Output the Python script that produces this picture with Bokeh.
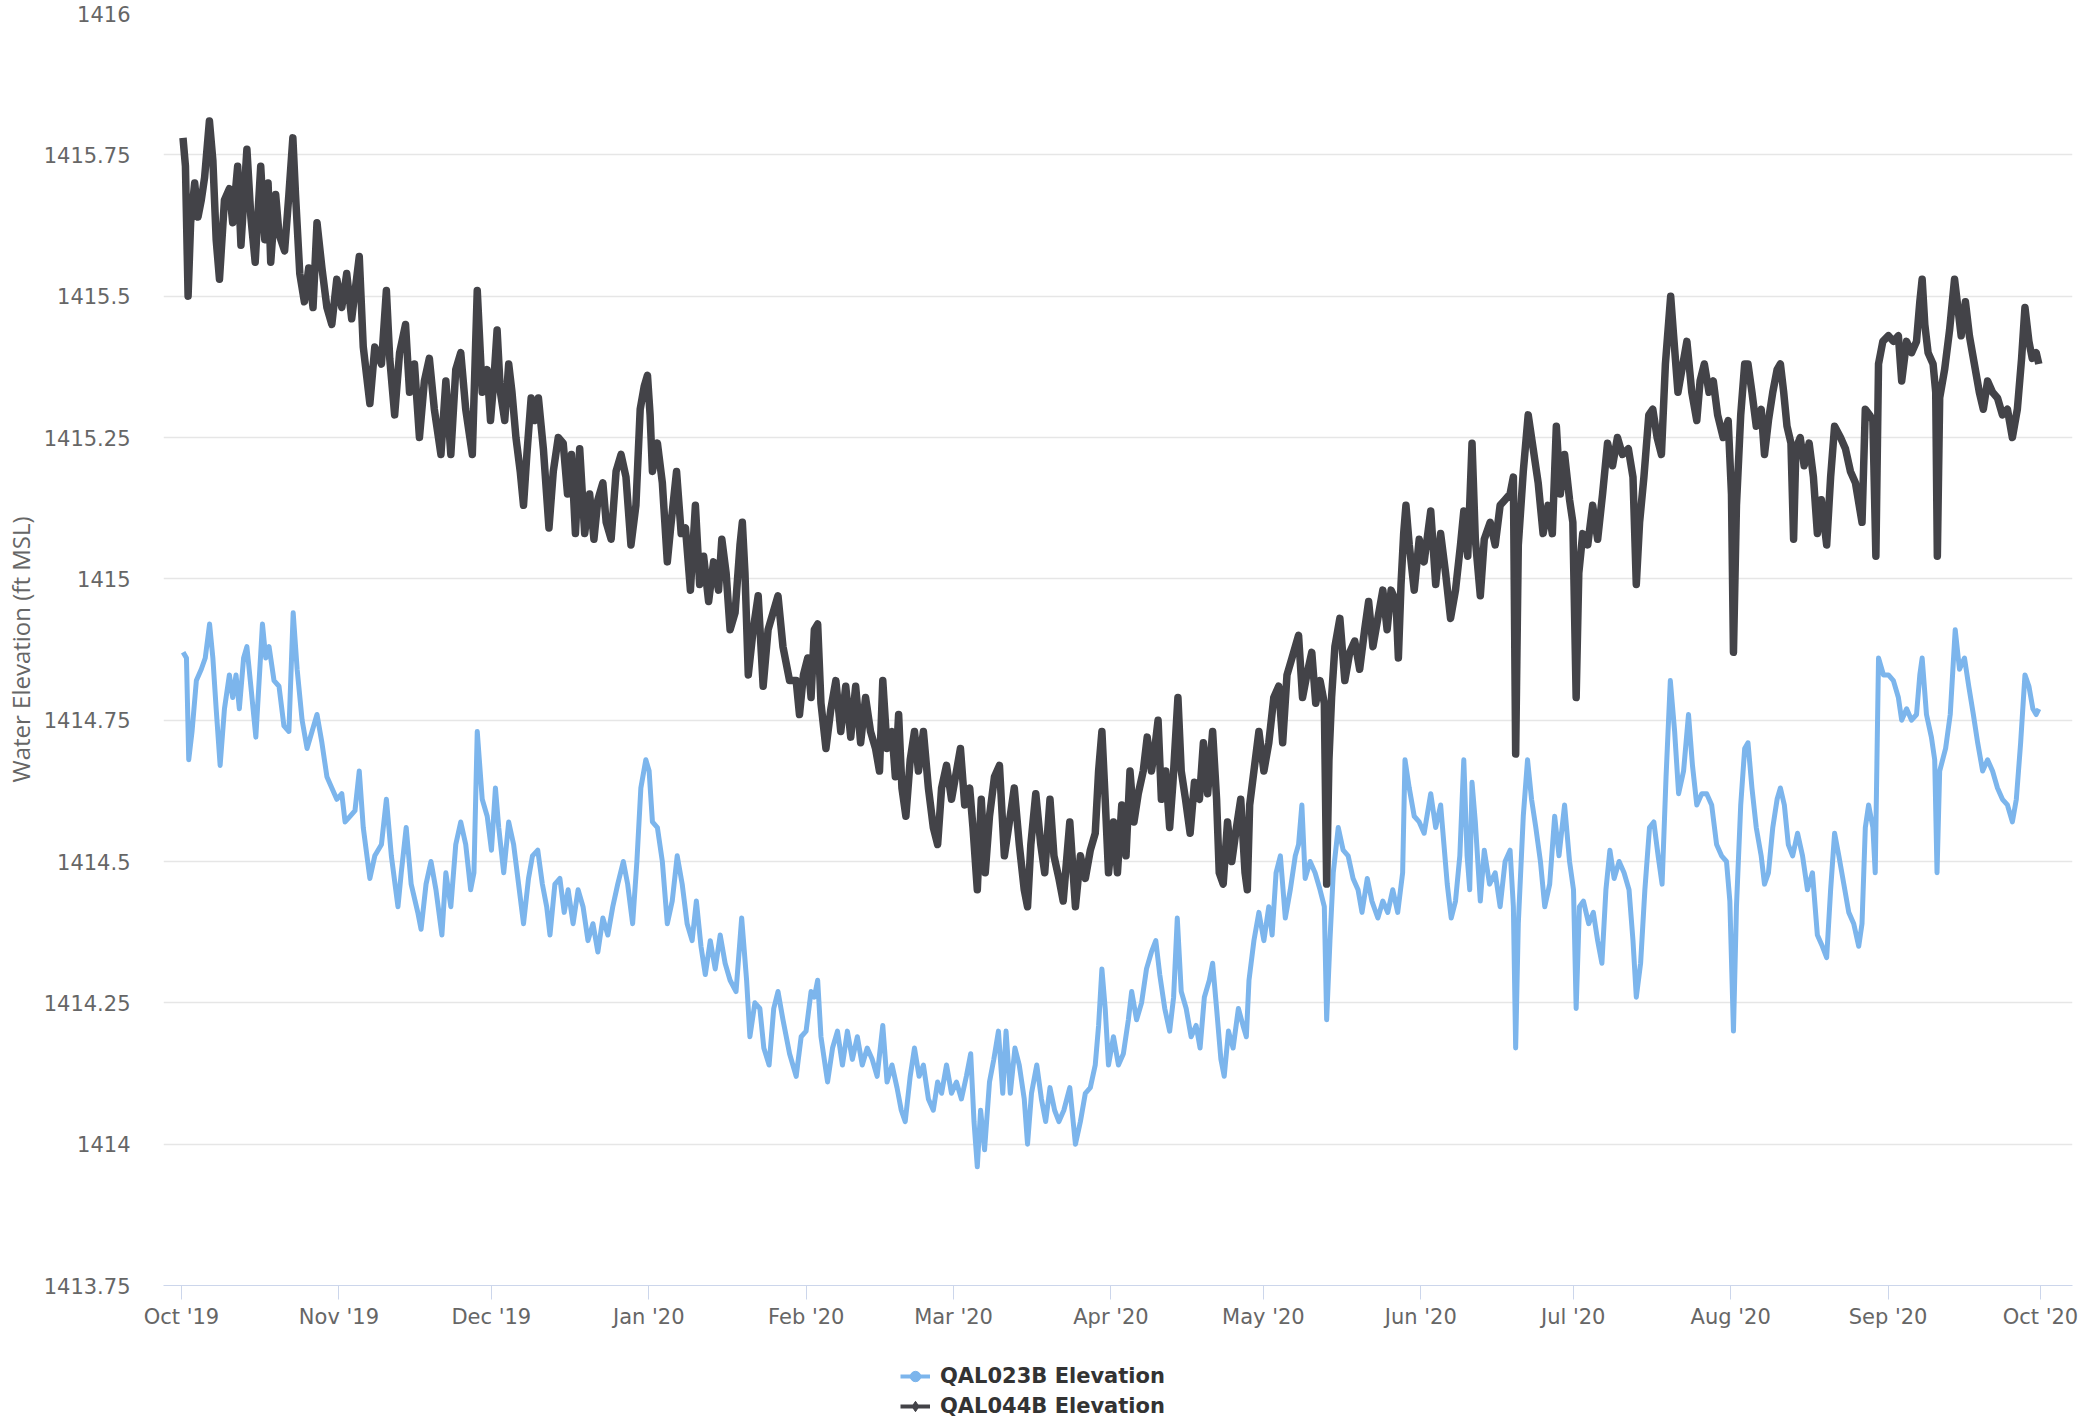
from datetime import datetime, timedelta
from bokeh.plotting import figure
from bokeh.layouts import column
from bokeh.models import (Range1d, FixedTicker, DatetimeTickFormatter, NumeralTickFormatter,
                          Legend, LegendItem, ColumnDataSource)
from bokeh.embed import file_html
from bokeh.resources import INLINE

# ---------------- data (days since 2019-10-01, elevation ft MSL) ----------------
start_date = datetime(2019, 10, 1)

qal044b_days = [
    0.3, 0.78, 1.3, 1.8, 2.6, 3.25, 3.9, 4.55, 5.5, 6.18, 6.83, 7.48, 8.46, 9.43, 10.08, 11.06, 11.71, 12.88,
    13.66, 14.51, 15.6, 16.4, 17.05, 17.57, 18.54, 19.2, 20.3, 21.15, 21.93, 22.45, 23.29, 24.2, 25.05, 25.9,
    26.68, 27.65, 28.63, 29.6, 30.58, 31.56, 32.53, 33.51, 35.0, 35.79, 37.09, 38.06, 39.37, 40.34, 41.0,
    41.97, 42.94, 44.11, 44.9, 45.87, 46.85, 47.82, 48.8, 49.78, 51.08, 52.05, 53.03, 54.0, 54.98, 55.96,
    57.26, 58.23,
    59.21, 60.19, 60.84, 61.49, 62.14, 62.79, 63.64, 64.42, 65.07, 65.85, 66.69, 67.34, 68.0, 68.84, 69.62,
    70.27, 71.25, 72.35, 73.2, 74.18, 75.15, 76.0, 76.78, 77.56, 78.4, 79.38, 80.36, 81.2, 81.98, 82.96,
    83.61, 84.59, 85.56, 86.54, 87.51, 88.49, 89.47, 90.31, 91.09, 91.74, 92.26, 92.72, 93.7, 94.67, 95.65,
    96.3, 97.47, 98.38, 99.23, 100.2, 101.18, 102.02, 102.8, 103.78, 104.76, 105.73, 106.38, 107.23, 108.01,
    108.99, 109.96, 110.42, 110.94, 111.59, 112.56, 113.54, 114.52, 115.49, 117.44, 118.42, 119.72,
    121.02, 121.67, 122.45, 123.3, 123.95, 124.6, 125.25, 125.9, 126.88, 127.85, 128.83, 129.8, 130.78,
    131.76, 132.73, 133.71, 134.68, 135.66, 136.64, 137.42, 138.07, 138.91, 139.89, 140.54, 141.19, 141.84,
    142.62, 143.47, 144.31, 145.09, 146.07, 147.05, 148.02, 148.87, 149.65, 150.62, 151.6, 152.58, 153.36,
    154.2, 155.18, 155.83, 156.68, 157.46, 158.24, 159.08, 160.06, 161.04, 162.01, 162.99, 163.96, 164.94,
    165.92, 166.57, 167.22, 168.19, 169.17, 169.95, 170.99, 171.77, 172.75, 173.59, 174.89, 176.0, 176.98,
    177.95, 178.93, 179.9, 180.56, 181.21, 181.86, 182.51,
    183.49, 184.27, 185.12, 185.96, 186.74, 187.52, 188.37, 189.35, 190.13, 190.97, 191.62, 192.27, 192.92,
    193.77, 194.55, 195.2, 196.18, 196.83, 197.67, 198.58, 199.43, 200.41, 201.19, 202.03, 203.01, 203.79,
    204.31, 205.09, 205.94, 206.78, 207.7, 208.54, 209.39, 209.84, 210.3, 211.14, 212.12, 213.1, 214.07,
    215.05, 216.02, 216.8, 217.65, 218.63, 219.93, 220.71, 221.55, 222.53, 223.31, 224.16, 225.0, 225.46,
    225.91, 226.43, 227.08, 228.06, 229.04, 230.01, 230.99, 231.96, 232.94, 233.72, 234.57, 235.54, 236.52,
    237.36, 238.15, 239.12, 239.58, 240.1, 240.62, 241.07, 241.72, 242.7, 243.68, 244.65,
    245.95, 246.93, 247.9, 248.88, 249.85, 250.83, 251.81, 252.46, 253.24, 254.08, 254.73, 255.71, 256.49,
    257.66, 258.64, 259.61, 260.59, 261.57, 262.22, 262.67, 263.19, 264.17, 265.14, 266.12, 267.1, 268.07,
    269.05, 269.89, 270.68, 271.46, 272.3, 273.28, 273.93, 274.58, 275.1, 275.88, 276.86, 277.83, 278.81,
    279.78, 280.76, 281.74, 282.71, 283.69, 284.86, 285.77, 286.42, 287.07, 287.92, 288.89, 289.67, 290.52,
    291.37, 292.15, 292.67, 293.19, 293.77, 294.62, 295.4, 296.38, 297.35, 298.33, 298.98, 299.82, 300.74,
    301.58, 302.43, 303.53, 304.51, 305.16, 305.55, 306.14, 306.98, 307.76,
    308.41, 309.19, 310.04, 311.01, 311.66, 312.44, 313.29, 314.14, 314.79, 315.44, 316.09, 316.87, 317.39,
    317.84, 318.69, 319.47, 320.45, 321.29, 322.07, 322.85, 323.9, 324.68, 325.46, 326.63, 327.6, 328.58,
    329.56, 330.86, 331.51, 332.35, 333.0, 333.59, 334.11, 334.96, 336.06, 337.04, 338.02, 338.67, 339.64,
    340.62, 341.59, 342.24, 342.7, 343.22, 343.87, 344.85, 345.37, 345.69, 346.15, 347.12, 348.1, 349.08,
    349.73, 350.38, 351.22, 352.0, 352.98, 353.96, 354.74, 355.58, 356.56, 357.53, 358.51, 359.49, 360.46,
    361.44, 362.28, 362.94, 363.72, 364.37, 365.15, 365.67,
]
qal044b_elev = [
    1415.78, 1415.73, 1415.50, 1415.63, 1415.70, 1415.64, 1415.67, 1415.71, 1415.81, 1415.74, 1415.60, 1415.53,
    1415.67, 1415.69, 1415.63, 1415.73, 1415.59, 1415.76, 1415.64, 1415.56, 1415.73, 1415.60, 1415.70, 1415.56,
    1415.68, 1415.61, 1415.58, 1415.68, 1415.78, 1415.68, 1415.54, 1415.49, 1415.55, 1415.48, 1415.63, 1415.55,
    1415.48, 1415.45, 1415.53, 1415.48, 1415.54, 1415.46, 1415.57, 1415.41, 1415.31, 1415.41, 1415.38, 1415.51,
    1415.39, 1415.29, 1415.40, 1415.45, 1415.33, 1415.38, 1415.25, 1415.35, 1415.39, 1415.30, 1415.22, 1415.35,
    1415.22, 1415.37, 1415.40, 1415.30, 1415.22, 1415.51,
    1415.33, 1415.37, 1415.28, 1415.35, 1415.44, 1415.33, 1415.28, 1415.38, 1415.33, 1415.25, 1415.19, 1415.13,
    1415.22, 1415.32, 1415.28, 1415.32, 1415.23, 1415.09, 1415.19, 1415.25, 1415.24, 1415.15, 1415.22, 1415.08,
    1415.23, 1415.08, 1415.15, 1415.07, 1415.14, 1415.17, 1415.10, 1415.07, 1415.19, 1415.22, 1415.18, 1415.06,
    1415.13, 1415.30, 1415.34, 1415.36, 1415.29, 1415.19, 1415.24, 1415.17, 1415.03, 1415.09, 1415.19, 1415.08,
    1415.09, 1414.98, 1415.13, 1414.99, 1415.04, 1414.96, 1415.03, 1414.98, 1415.07, 1415.01, 1414.91, 1414.94,
    1415.06, 1415.10, 1415.01, 1414.83, 1414.91, 1414.97, 1414.81, 1414.91, 1414.97, 1414.88, 1414.82,
    1414.82, 1414.76, 1414.83, 1414.86, 1414.79, 1414.91, 1414.92, 1414.78, 1414.70, 1414.77, 1414.82, 1414.73,
    1414.81, 1414.72, 1414.81, 1414.71, 1414.79, 1414.73, 1414.70, 1414.66, 1414.82, 1414.70, 1414.73, 1414.65,
    1414.76, 1414.63, 1414.58, 1414.68, 1414.73, 1414.66, 1414.73, 1414.63, 1414.56, 1414.53, 1414.63, 1414.67,
    1414.61, 1414.66, 1414.70, 1414.60, 1414.63, 1414.56, 1414.45, 1414.61, 1414.48, 1414.58, 1414.65, 1414.67,
    1414.51, 1414.57, 1414.63, 1414.53, 1414.45, 1414.42, 1414.53, 1414.62, 1414.53, 1414.48, 1414.61, 1414.51,
    1414.47, 1414.43, 1414.57, 1414.42, 1414.51, 1414.47, 1414.52, 1414.55, 1414.66, 1414.73, 1414.61, 1414.48,
    1414.57, 1414.48, 1414.60, 1414.51, 1414.66, 1414.57, 1414.62, 1414.66, 1414.72, 1414.66, 1414.70, 1414.75,
    1414.61, 1414.66, 1414.56, 1414.64, 1414.79, 1414.66, 1414.61, 1414.55, 1414.64, 1414.61, 1414.71, 1414.62,
    1414.73, 1414.61, 1414.48, 1414.46, 1414.57, 1414.50, 1414.56, 1414.61, 1414.48, 1414.45, 1414.60, 1414.66,
    1414.73, 1414.66, 1414.71, 1414.79, 1414.81, 1414.71, 1414.83, 1414.86, 1414.90, 1414.79, 1414.83, 1414.87,
    1414.78, 1414.82, 1414.78, 1414.46, 1414.68, 1414.79, 1414.88, 1414.93, 1414.82, 1414.87, 1414.89, 1414.84,
    1414.91, 1414.96, 1414.88, 1414.93, 1414.98, 1414.91, 1414.98, 1414.96, 1414.86, 1414.99, 1415.08, 1415.13,
    1415.06, 1414.98, 1415.07, 1415.03,
    1415.12, 1414.99, 1415.08, 1415.01, 1414.93, 1414.98, 1415.06, 1415.12, 1415.04, 1415.24, 1415.07, 1414.97,
    1415.07, 1415.10, 1415.06, 1415.13, 1415.14, 1415.15, 1415.18, 1414.69, 1415.06, 1415.19, 1415.29, 1415.23,
    1415.17, 1415.08, 1415.13, 1415.08, 1415.27, 1415.15, 1415.22, 1415.14, 1415.10, 1414.79, 1415.01, 1415.08,
    1415.06, 1415.13, 1415.07, 1415.15, 1415.24, 1415.20, 1415.25, 1415.22, 1415.23, 1415.18, 1414.99, 1415.10,
    1415.18, 1415.29, 1415.30, 1415.25, 1415.22, 1415.38, 1415.44, 1415.50, 1415.43, 1415.33, 1415.37, 1415.42,
    1415.33, 1415.28, 1415.35, 1415.38, 1415.33, 1415.35, 1415.29, 1415.25, 1415.28, 1415.15, 1414.87, 1415.13,
    1415.29, 1415.38,
    1415.38, 1415.33, 1415.27, 1415.30, 1415.22, 1415.28, 1415.33, 1415.37, 1415.38, 1415.33, 1415.27, 1415.24,
    1415.07, 1415.23, 1415.25, 1415.20, 1415.24, 1415.18, 1415.08, 1415.14, 1415.06, 1415.18, 1415.27, 1415.25,
    1415.23, 1415.19, 1415.17, 1415.10, 1415.30, 1415.29, 1415.28, 1415.04, 1415.38, 1415.42, 1415.43, 1415.42,
    1415.43, 1415.35, 1415.42, 1415.40, 1415.42, 1415.49, 1415.53, 1415.45, 1415.40, 1415.38, 1415.33, 1415.04,
    1415.32, 1415.37, 1415.44, 1415.53, 1415.48, 1415.43, 1415.49, 1415.43, 1415.38, 1415.33, 1415.30, 1415.35,
    1415.33, 1415.32, 1415.29, 1415.30, 1415.25, 1415.30, 1415.39, 1415.48, 1415.42, 1415.39, 1415.40, 1415.38,
]

qal023b_days = [
    0.33, 0.98, 1.43, 2.08, 2.93, 3.9, 4.68, 5.53, 6.18, 6.83, 7.61, 8.46, 9.43, 10.08, 10.74, 11.39, 12.23,
    12.88, 13.66, 14.64, 15.94, 16.59, 17.24, 18.22, 19.2, 20.17, 21.15, 21.99, 22.77, 23.75, 24.72, 25.7,
    26.68, 27.65, 28.63, 29.6, 30.58, 31.56, 32.21, 33.18, 34.16, 35.0, 35.79, 37.09, 38.06, 39.37, 40.34,
    41.32, 42.62, 43.27, 44.24, 45.22, 46.52, 47.17, 48.15, 49.12, 50.1, 51.27, 52.05, 53.03, 54.0, 54.98,
    55.96, 56.93, 57.58, 58.23,
    59.21, 60.19, 61.03, 61.81, 62.46, 63.44, 64.42, 65.39, 66.37, 67.34, 68.32, 69.1, 70.14, 71.05, 71.9,
    72.55, 73.52, 74.5, 75.35, 76.13, 77.1, 78.08, 79.06, 80.03, 81.01, 81.98, 82.96, 83.94, 84.91, 85.89,
    86.99, 87.84, 88.82, 89.66, 90.44, 91.42, 92.07, 92.72, 93.7, 94.67, 95.65, 96.62, 97.6, 98.58, 99.55,
    100.53, 101.37, 102.28, 103.13, 104.11, 105.08, 106.06, 107.03, 108.01, 109.18, 110.29, 111.26, 111.91,
    112.89, 113.87, 114.65, 115.69, 116.6, 117.44, 118.42, 119.72,
    121.02, 122.0, 122.97, 123.95, 124.6, 125.25, 125.9, 127.2, 128.18, 129.15, 130.13, 131.1, 132.08,
    133.06, 134.03, 135.01, 135.99, 136.96, 138.07, 138.91, 139.89, 140.87, 141.71, 142.49, 143.47, 144.31,
    145.22, 146.07, 147.05, 148.02, 148.87, 149.65, 150.62, 151.6, 152.58, 153.55, 154.53, 155.38, 156.03,
    156.68, 157.33, 158.11, 159.08, 159.93, 160.84, 161.69, 162.34, 163.18, 164.09, 164.94, 165.92, 166.57,
    167.35, 168.39, 169.3, 170.14, 170.99, 171.9, 172.75, 173.72, 174.89, 176.0, 176.98, 177.95, 178.93,
    179.9, 180.56, 181.21, 181.86, 182.51,
    183.49, 184.47, 185.44, 186.42, 187.07, 188.04, 189.02, 189.99, 190.97, 191.82, 192.6, 193.58, 194.55,
    195.33, 196.05, 196.83, 197.8, 198.78, 199.76, 200.54, 201.38, 202.36, 203.01, 203.79, 204.64, 205.29,
    206.13, 207.04, 208.08, 208.99, 209.65, 210.17, 211.14, 212.12, 213.1, 214.07, 214.72, 215.5, 216.35,
    217.32, 218.3, 219.28, 219.93, 220.58, 221.23, 222.2, 223.18, 224.16, 225.0, 225.46, 226.11, 226.76,
    227.74, 228.71, 229.69, 230.66, 231.64, 232.42, 233.46, 234.37, 235.54, 236.52, 237.49, 238.47, 239.45,
    240.42, 240.88, 241.72, 242.7, 243.68, 244.65,
    245.95, 246.93, 247.9, 248.55, 249.2, 249.98, 250.83, 251.68, 252.46, 253.11, 253.63, 254.08, 254.73,
    255.71, 256.49, 257.53, 258.64, 259.61, 260.59, 261.57, 262.22, 262.67, 263.19, 264.17, 265.01, 265.8,
    266.64, 267.55, 268.4, 269.37, 270.35, 271.2, 272.3, 273.28, 274.06, 274.58, 275.23, 276.01, 277.05,
    277.96, 278.81, 279.65, 280.44, 281.22, 282.06, 283.04, 284.01, 284.99, 285.77, 286.42, 287.27, 288.11,
    289.02, 289.87, 290.72, 291.5, 292.28, 293.12, 293.97, 294.75, 295.73, 296.7, 297.48, 298.33, 299.3,
    300.28, 301.26, 302.23, 303.21, 304.18, 304.84, 305.55, 306.14, 306.98, 307.76,
    308.41, 309.19, 310.04, 311.01, 311.66, 312.44, 313.29, 314.14, 314.79, 315.57, 316.35, 317.2, 318.17,
    319.15, 320.12, 321.1, 322.07, 323.05, 323.9, 324.68, 325.46, 326.3, 327.28, 328.25, 329.23, 330.21,
    330.86, 331.51, 332.16, 333.0, 333.46, 334.11, 335.09, 336.06, 337.04, 338.02, 338.67, 339.64, 340.62,
    341.59, 342.24, 342.7, 343.55, 344.52, 345.17, 345.63, 346.15, 347.32, 348.23, 349.21, 350.05, 351.03,
    351.87, 352.78, 353.63, 354.61, 355.58, 356.56, 357.53, 358.51, 359.49, 360.46, 361.24, 362.09, 362.94,
    363.72, 364.5, 365.15, 365.67,
]
qal023b_elev = [
    1414.87, 1414.86, 1414.68, 1414.73, 1414.82, 1414.84, 1414.86, 1414.92, 1414.86, 1414.77, 1414.67, 1414.77,
    1414.83, 1414.79, 1414.83, 1414.77, 1414.86, 1414.88, 1414.81, 1414.72, 1414.92, 1414.86, 1414.88, 1414.82,
    1414.81, 1414.74, 1414.73, 1414.94, 1414.84, 1414.75, 1414.70, 1414.73, 1414.76, 1414.71, 1414.65, 1414.63,
    1414.61, 1414.62, 1414.57, 1414.58, 1414.59, 1414.66, 1414.56, 1414.47, 1414.51, 1414.53, 1414.61, 1414.51,
    1414.42, 1414.48, 1414.56, 1414.46, 1414.41, 1414.38, 1414.46, 1414.50, 1414.45, 1414.37, 1414.48, 1414.42,
    1414.53, 1414.57, 1414.53, 1414.45, 1414.48, 1414.73,
    1414.61, 1414.58, 1414.52, 1414.63, 1414.56, 1414.48, 1414.57, 1414.53, 1414.46, 1414.39, 1414.47, 1414.51,
    1414.52, 1414.46, 1414.42, 1414.37, 1414.46, 1414.47, 1414.41, 1414.45, 1414.39, 1414.45, 1414.42, 1414.36,
    1414.39, 1414.34, 1414.40, 1414.37, 1414.42, 1414.46, 1414.50, 1414.46, 1414.39, 1414.50, 1414.63, 1414.68,
    1414.66, 1414.57, 1414.56, 1414.50, 1414.39, 1414.43, 1414.51, 1414.46, 1414.39, 1414.36, 1414.43, 1414.35,
    1414.30, 1414.36, 1414.31, 1414.37, 1414.32, 1414.29, 1414.27, 1414.40, 1414.29, 1414.19, 1414.25, 1414.24,
    1414.17, 1414.14, 1414.24, 1414.27, 1414.22, 1414.16,
    1414.12, 1414.19, 1414.20, 1414.27, 1414.26, 1414.29, 1414.19, 1414.11, 1414.17, 1414.20, 1414.14, 1414.20,
    1414.15, 1414.19, 1414.14, 1414.17, 1414.15, 1414.12, 1414.21, 1414.11, 1414.14, 1414.10, 1414.06, 1414.04,
    1414.12, 1414.17, 1414.12, 1414.14, 1414.08, 1414.06, 1414.11, 1414.09, 1414.14, 1414.09, 1414.11, 1414.08,
    1414.12, 1414.16, 1414.04, 1413.96, 1414.06, 1413.99, 1414.11, 1414.15, 1414.20, 1414.09, 1414.20, 1414.09,
    1414.17, 1414.14, 1414.08, 1414.00, 1414.09, 1414.14, 1414.08, 1414.04, 1414.10, 1414.06, 1414.04, 1414.06,
    1414.10, 1414.00, 1414.04, 1414.09, 1414.10, 1414.14, 1414.21, 1414.31, 1414.24, 1414.14,
    1414.19, 1414.14, 1414.16, 1414.22, 1414.27, 1414.22, 1414.25, 1414.31, 1414.34, 1414.36, 1414.30, 1414.24,
    1414.20, 1414.26, 1414.40, 1414.27, 1414.24, 1414.19, 1414.21, 1414.17, 1414.26, 1414.29, 1414.32, 1414.24,
    1414.15, 1414.12, 1414.20, 1414.17, 1414.24, 1414.21, 1414.19, 1414.29, 1414.36, 1414.41, 1414.36, 1414.42,
    1414.37, 1414.48, 1414.51, 1414.40, 1414.45, 1414.51, 1414.53, 1414.60, 1414.47, 1414.50, 1414.48, 1414.45,
    1414.42, 1414.22, 1414.36, 1414.48, 1414.56, 1414.52, 1414.51, 1414.47, 1414.45, 1414.41, 1414.47, 1414.43,
    1414.40, 1414.43, 1414.41, 1414.45, 1414.41, 1414.48, 1414.68, 1414.63, 1414.58, 1414.57, 1414.55,
    1414.62, 1414.56, 1414.60, 1414.53, 1414.46, 1414.40, 1414.43, 1414.51, 1414.68, 1414.51, 1414.45, 1414.64,
    1414.57, 1414.43, 1414.52, 1414.46, 1414.48, 1414.42, 1414.50, 1414.52, 1414.42, 1414.17, 1414.39, 1414.58,
    1414.68, 1414.61, 1414.56, 1414.50, 1414.42, 1414.46, 1414.58, 1414.51, 1414.60, 1414.50, 1414.45, 1414.24,
    1414.42, 1414.43, 1414.39, 1414.41, 1414.36, 1414.32, 1414.45, 1414.52, 1414.47, 1414.50, 1414.48, 1414.45,
    1414.36, 1414.26, 1414.32, 1414.45, 1414.56, 1414.57, 1414.51, 1414.46, 1414.65, 1414.82, 1414.73, 1414.62,
    1414.66, 1414.76, 1414.67, 1414.60, 1414.62, 1414.62, 1414.60, 1414.53, 1414.51, 1414.50, 1414.43, 1414.20,
    1414.42, 1414.60, 1414.70,
    1414.71, 1414.63, 1414.56, 1414.51, 1414.46, 1414.48, 1414.56, 1414.61, 1414.63, 1414.60, 1414.53, 1414.51,
    1414.55, 1414.51, 1414.45, 1414.48, 1414.37, 1414.35, 1414.33, 1414.45, 1414.55, 1414.51, 1414.46, 1414.41,
    1414.39, 1414.35, 1414.39, 1414.56, 1414.60, 1414.56, 1414.48, 1414.86, 1414.83, 1414.83, 1414.82, 1414.79,
    1414.75, 1414.77, 1414.75, 1414.76, 1414.83, 1414.86, 1414.76, 1414.72, 1414.68, 1414.48, 1414.66, 1414.70,
    1414.76, 1414.91, 1414.84, 1414.86, 1414.81, 1414.76, 1414.71, 1414.66, 1414.68, 1414.66, 1414.63, 1414.61,
    1414.60, 1414.57, 1414.61, 1414.71, 1414.83, 1414.81, 1414.77, 1414.76, 1414.77,
]

series_names = ["QAL023B Elevation", "QAL044B Elevation"]
y_ticks = [1413.75, 1414, 1414.25, 1414.5, 1414.75, 1415, 1415.25, 1415.5, 1415.75, 1416]
month_ticks = [datetime(2019, m, 1) for m in range(10, 13)] + [datetime(2020, m, 1) for m in range(1, 11)]
y_title = "Water Elevation (ft MSL)"

# ---------------- figure ----------------
def to_dates(days):
    return [start_date + timedelta(days=d) for d in days]

BLUE = "#7cb5ec"
DARK = "#434348"
W = 2080

p = figure(width=W, height=1333, x_axis_type="datetime", output_backend="svg",
           toolbar_location=None,
           x_range=Range1d(start_date - timedelta(days=3.54), start_date + timedelta(days=372.3)),
           y_range=Range1d(1413.75, 1416),
           min_border_left=162, min_border_right=8, min_border_top=13, min_border_bottom=48)
p.outline_line_color = None
p.background_fill_color = "white"
p.border_fill_color = "white"

src_b = ColumnDataSource(dict(x=to_dates(qal023b_days), y=qal023b_elev))
src_k = ColumnDataSource(dict(x=to_dates(qal044b_days), y=qal044b_elev))
p.line("x", "y", source=src_b, line_color=BLUE, line_width=5, line_join="round")
p.line("x", "y", source=src_k, line_color=DARK, line_width=7.5, line_join="round")

# axes
xa = p.xaxis[0]
xa.ticker = FixedTicker(ticks=[d.timestamp() * 1000 for d in month_ticks])
fmt = "%b '%y"
xa.formatter = DatetimeTickFormatter(days=fmt, months=fmt, years=fmt, hours=fmt, milliseconds=fmt,
                                     seconds=fmt, minsec=fmt, minutes=fmt, hourmin=fmt)
xa.axis_line_color = "#ccd6eb"
xa.major_tick_line_color = "#ccd6eb"
xa.major_tick_out = 14
xa.major_tick_in = 0
xa.minor_tick_line_color = None
xa.major_label_standoff = 5
xa.major_label_text_font = "DejaVu Sans"
xa.major_label_text_font_size = "21px"
xa.major_label_text_color = "#666666"

ya = p.yaxis[0]
ya.ticker = FixedTicker(ticks=y_ticks)
ya.formatter = NumeralTickFormatter(format="0.[00]")
ya.axis_line_color = None
ya.major_tick_line_color = None
ya.minor_tick_line_color = None
ya.major_label_standoff = 27
ya.major_label_text_font = "DejaVu Sans"
ya.major_label_text_font_size = "21px"
ya.major_label_text_color = "#666666"
ya.axis_label = y_title
ya.axis_label_text_font = "Open Sans"
ya.axis_label_text_font_style = "normal"
ya.axis_label_text_font_size = "24px"
ya.axis_label_text_color = "#666666"
ya.axis_label_standoff = 4

p.xgrid.grid_line_color = None
p.ygrid.grid_line_color = "#e6e6e6"
p.ygrid.grid_line_width = 1.5

# ---------------- legend strip below the chart ----------------
LH = 1420 - 1333
q = figure(width=W, height=LH, output_backend="svg", toolbar_location=None,
           x_axis_location=None, y_axis_location=None, min_border=0,
           x_range=Range1d(0, 1), y_range=Range1d(0, 1))
q.outline_line_color = None
q.xgrid.grid_line_color = None
q.ygrid.grid_line_color = None
nan = float("nan")
swatch = ColumnDataSource(dict(x=[nan], y=[nan]))
lb = q.line("x", "y", source=swatch, line_color=BLUE, line_width=4)
mb = q.scatter("x", "y", source=swatch, marker="circle", size=15, fill_color=BLUE, line_color=BLUE)
lk = q.line("x", "y", source=swatch, line_color=DARK, line_width=4)
mk = q.scatter("x", "y", source=swatch, marker="diamond", size=18, fill_color=DARK, line_color=DARK)

legend = Legend(items=[LegendItem(label=series_names[0], renderers=[lb, mb]),
                       LegendItem(label=series_names[1], renderers=[lk, mk])],
                location=(737, 1), orientation="vertical",
                label_text_font="DejaVu Sans", label_text_font_style="bold",
                label_text_font_size="21px", label_text_color="#333333",
                glyph_width=30, glyph_height=26, label_standoff=10, spacing=4,
                padding=0, margin=0, background_fill_alpha=0, border_line_color=None)
q.add_layout(legend, "center")

layout = column(p, q, spacing=0)
open("out.html", "w").write(file_html(layout, INLINE))
